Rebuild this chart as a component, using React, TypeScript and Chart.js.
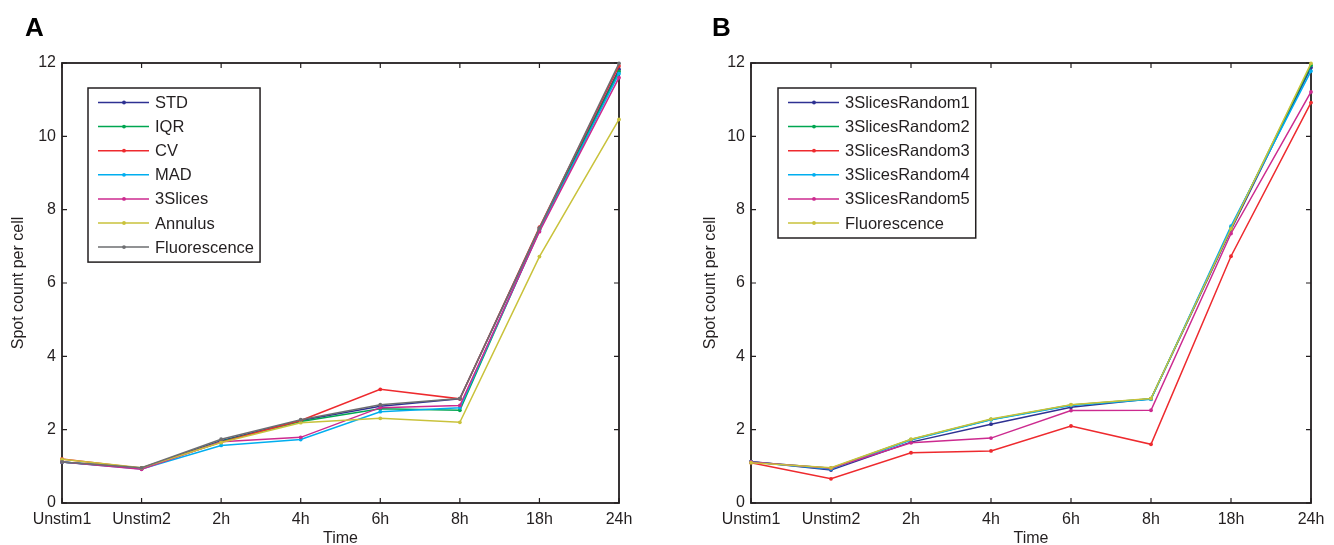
import React, { useEffect, useRef } from "react";
import { Chart, registerables } from "chart.js";

Chart.register(...registerables);

const FONT = "'Liberation Sans', Arial, Helvetica, sans-serif";
const INK = "#231F20";

const timeLabels = ["Unstim1", "Unstim2", "2h", "4h", "6h", "8h", "18h", "24h"];
const yTickValues = [0, 2, 4, 6, 8, 10, 12];

// Panel A
const stdA = [1.12, 0.95, 1.7, 2.25, 2.64, 2.84, 7.48, 11.83];
const iqrA = [1.12, 0.95, 1.68, 2.22, 2.57, 2.53, 7.45, 11.77];
const cvA = [1.2, 0.95, 1.66, 2.25, 3.1, 2.84, 7.52, 11.92];
const madA = [1.12, 0.93, 1.57, 1.73, 2.49, 2.6, 7.42, 11.71];
const slicesA = [1.12, 0.92, 1.67, 1.79, 2.6, 2.66, 7.4, 11.6];
const annulusA = [1.19, 0.96, 1.65, 2.19, 2.31, 2.2, 6.72, 10.46];
const fluorA = [1.12, 0.96, 1.74, 2.27, 2.68, 2.85, 7.5, 11.99];

// Panel B
const rand1B = [1.13, 0.9, 1.66, 2.15, 2.61, 2.84, 7.45, 11.88];
const rand2B = [1.12, 0.95, 1.73, 2.28, 2.67, 2.84, 7.5, 11.94];
const rand3B = [1.1, 0.66, 1.37, 1.42, 2.1, 1.6, 6.73, 10.92];
const rand4B = [1.12, 0.93, 1.72, 2.27, 2.66, 2.83, 7.55, 11.78];
const rand5B = [1.12, 0.95, 1.64, 1.77, 2.52, 2.53, 7.35, 11.21];
const fluorB = [1.1, 0.96, 1.74, 2.29, 2.68, 2.85, 7.48, 11.99];

const BLUE = "#2E3192";
const GREEN = "#00A651";
const RED = "#EE2A2E";
const CYAN = "#00AEEF";
const MAGENTA = "#CC2A8F";
const YELLOW = "#C9C23B";
const GRAY = "#6D6E71";

type Series = { label: string; data: number[]; color: string };

const seriesA: Series[] = [
  { label: "STD", data: stdA, color: BLUE },
  { label: "IQR", data: iqrA, color: GREEN },
  { label: "CV", data: cvA, color: RED },
  { label: "MAD", data: madA, color: CYAN },
  { label: "3Slices", data: slicesA, color: MAGENTA },
  { label: "Annulus", data: annulusA, color: YELLOW },
  { label: "Fluorescence", data: fluorA, color: GRAY },
];

const seriesB: Series[] = [
  { label: "3SlicesRandom1", data: rand1B, color: BLUE },
  { label: "3SlicesRandom2", data: rand2B, color: GREEN },
  { label: "3SlicesRandom3", data: rand3B, color: RED },
  { label: "3SlicesRandom4", data: rand4B, color: CYAN },
  { label: "3SlicesRandom5", data: rand5B, color: MAGENTA },
  { label: "Fluorescence", data: fluorB, color: YELLOW },
];

type PanelProps = {
  letter: string;
  letterX: number;
  series: Series[];
  left: number;
  width: number;
  yAxisWidth: number;
  yTitlePad: number;
  rightPad: number;
  legendX: number;
  legendY: number;
};

function Panel(p: PanelProps) {
  const ref = useRef<HTMLCanvasElement | null>(null);
  useEffect(() => {
    if (!ref.current) return;
    const n = p.series.length;
    const framePlugin = {
      id: "frame",
      beforeDatasetsDraw(chart: any) {
        const { ctx, chartArea } = chart;
        const { left, right, top, bottom } = chartArea;
        ctx.save();
        ctx.strokeStyle = INK;
        ctx.lineWidth = 1.2;
        const xs = chart.scales.x;
        const ys = chart.scales.y;
        ctx.beginPath();
        for (let i = 0; i < timeLabels.length; i++) {
          const px = xs.getPixelForValue(i);
          ctx.moveTo(px, bottom);
          ctx.lineTo(px, bottom - 5);
          ctx.moveTo(px, top);
          ctx.lineTo(px, top + 5);
        }
        for (const v of yTickValues) {
          const py = ys.getPixelForValue(v);
          ctx.moveTo(left, py);
          ctx.lineTo(left + 5, py);
          ctx.moveTo(right, py);
          ctx.lineTo(right - 5, py);
        }
        ctx.stroke();
        ctx.lineWidth = 1.8;
        ctx.strokeRect(left, top, right - left, bottom - top);
        ctx.restore();
      },
      afterDraw(chart: any) {
        const { ctx } = chart;
        ctx.save();
        // panel letter
        ctx.fillStyle = "#000";
        ctx.font = `bold 26px ${FONT}`;
        ctx.textBaseline = "alphabetic";
        ctx.textAlign = "left";
        ctx.fillText(p.letter, p.letterX, 36);
        // legend
        ctx.font = `16.5px ${FONT}`;
        let maxW = 0;
        for (const s of p.series) maxW = Math.max(maxW, ctx.measureText(s.label).width);
        const rowH = 24.1;
        const bx = p.legendX;
        const by = p.legendY;
        const textX = bx + 67;
        const bw = 67 + maxW + 6;
        const bh = 14.5 + rowH * (n - 1) + 15;
        ctx.fillStyle = "#fff";
        ctx.fillRect(bx, by, bw, bh);
        ctx.strokeStyle = INK;
        ctx.lineWidth = 1.5;
        ctx.strokeRect(bx, by, bw, bh);
        p.series.forEach((s, i) => {
          const ry = by + 14.5 + rowH * i;
          ctx.strokeStyle = s.color;
          ctx.lineWidth = 1.5;
          ctx.beginPath();
          ctx.moveTo(bx + 10, ry);
          ctx.lineTo(bx + 61, ry);
          ctx.stroke();
          ctx.fillStyle = s.color;
          ctx.beginPath();
          ctx.arc(bx + 36, ry, 1.9, 0, Math.PI * 2);
          ctx.fill();
          ctx.fillStyle = INK;
          ctx.textBaseline = "middle";
          ctx.fillText(s.label, textX, ry + 1);
        });
        ctx.restore();
      },
    };
    const chart = new Chart(ref.current, {
      type: "line",
      data: {
        labels: timeLabels,
        datasets: p.series.map((s, i) => ({
          label: s.label,
          data: s.data,
          borderColor: s.color,
          backgroundColor: s.color,
          borderWidth: 1.5,
          pointRadius: 1.9,
          pointBorderWidth: 0,
          pointBackgroundColor: s.color,
          tension: 0,
          clip: false as any,
          order: n - i,
        })),
      },
      options: {
        animation: false,
        responsive: false,
        events: [],
        layout: { padding: { left: 0, right: p.rightPad, top: 63, bottom: 0 } },
        plugins: { legend: { display: false }, tooltip: { enabled: false } },
        scales: {
          x: {
            type: "category",
            offset: false,
            grid: { display: false, drawTicks: false },
            border: { display: false },
            ticks: { color: INK, font: { family: FONT, size: 16 }, padding: 7, autoSkip: false, maxRotation: 0 },
            title: { display: true, text: "Time", color: INK, font: { family: FONT, size: 16, lineHeight: 0.75 }, padding: { top: 0, bottom: 0 } },
            afterFit: (scale: any) => {
              scale.height = 42;
            },
          },
          y: {
            type: "linear",
            min: 0,
            max: 12,
            grid: { display: false, drawTicks: false },
            border: { display: false },
            ticks: { stepSize: 2, color: INK, font: { family: FONT, size: 16 }, padding: 6 },
            title: { display: true, text: "Spot count per cell", color: INK, font: { family: FONT, size: 16 }, padding: { top: p.yTitlePad, bottom: 0 } },
            afterFit: (scale: any) => {
              scale.width = p.yAxisWidth;
            },
          },
        },
      },
      plugins: [framePlugin],
    } as any);
    return () => chart.destroy();
  }, []);
  return (
    <canvas
      ref={ref}
      width={p.width}
      height={545}
      style={{ position: "absolute", left: p.left, top: 0, width: p.width, height: 545 }}
    />
  );
}

export default function App() {
  return (
    <div style={{ position: "absolute", left: 0, top: 0, width: 1334, height: 545, background: "#fff" }}>
      <Panel
        letter="A"
        letterX={25}
        series={seriesA}
        left={0}
        width={667}
        yAxisWidth={62}
        yTitlePad={9.4}
        rightPad={48}
        legendX={88}
        legendY={88}
      />
      <Panel
        letter="B"
        letterX={45}
        series={seriesB}
        left={667}
        width={667}
        yAxisWidth={84}
        yTitlePad={34.4}
        rightPad={23}
        legendX={111}
        legendY={88}
      />
    </div>
  );
}
